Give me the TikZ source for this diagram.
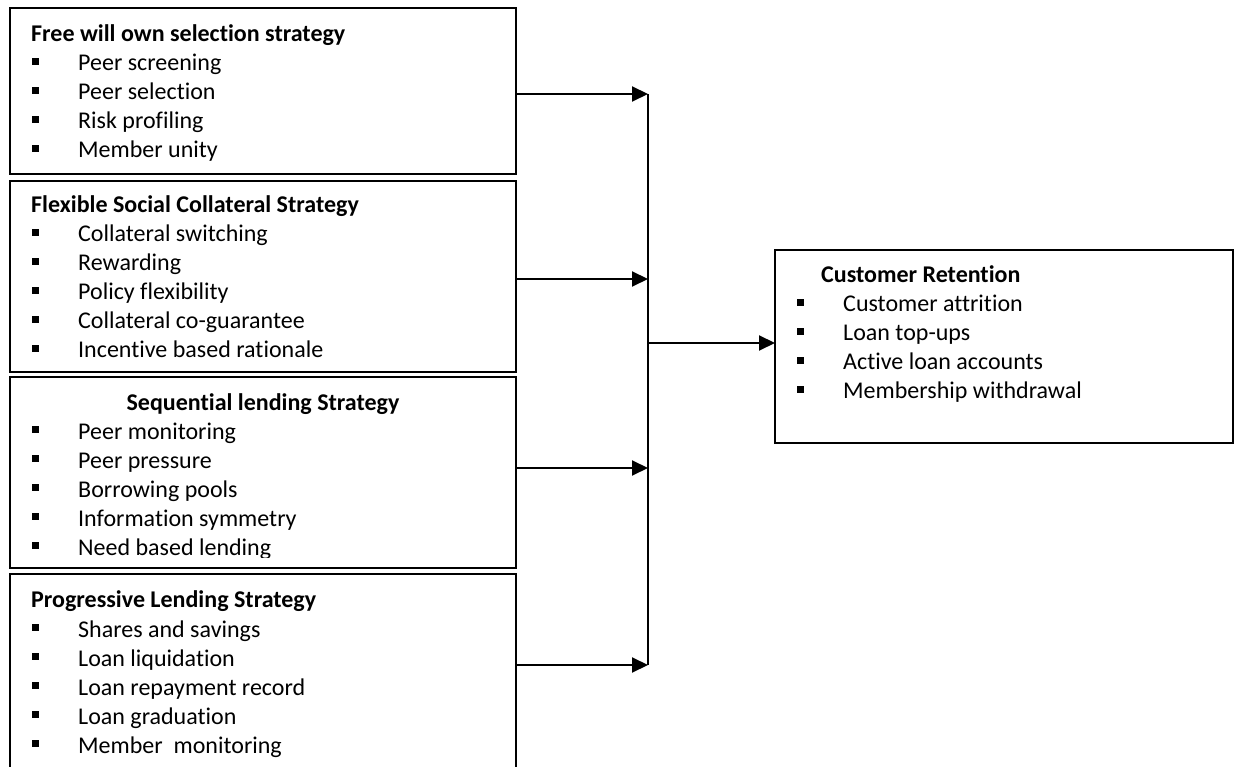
\documentclass[tikz,border=0pt]{standalone}
\usepackage{fontspec}
\setmainfont{Carlito}[Ligatures=NoCommon]
\usetikzlibrary{arrows.meta}
\usetikzlibrary{calc}
\tikzset{
	stratbox/.style={draw, line width=2pt, rectangle, minimum width=506pt, outer sep=0pt, inner sep=0pt, anchor=north west},
	heading/.style={font=\fontsize{24}{29}\selectfont\bfseries, anchor=base west, inner sep=0pt},
	itemtext/.style={font=\fontsize{24}{29}\selectfont, anchor=base west, inner sep=0pt},
	feed/.style={line width=2pt, -{Triangle[length=16pt,width=15pt]}}
}
\newcommand{\bulletitem}[4] % name, box left x, baseline y, text
{
	% square bullet
	\fill (#2+22,#3-13) rectangle (#2+29,#3-6);
	% item label
	\node[itemtext] (#1) at (#2+68,#3) {#4};
}

\begin{document}
\begin{tikzpicture}[x=1pt, y=-1pt]
	\useasboundingbox (0,0) rectangle (1235,767);
	\clip (0,0) rectangle (1235,767);
	% strategy boxes, pixel grid 1235 x 767
	\node[stratbox, minimum height=166pt] (free) at (10,8) {};
	\node[stratbox, minimum height=191pt] (flex) at (10,181) {};
	\node[stratbox, minimum height=191pt] (seq) at (10,377) {};
	\node[stratbox, minimum height=230pt] (prog) at (10,574) {};
	\node[stratbox, minimum width=458pt, minimum height=193pt] (ret) at (775,250) {};

	% free will own selection
	\node[heading] (free-title) at (31,42) {Free will own selection strategy};
	\bulletitem{free1}{10}{71}{Peer screening};
	\bulletitem{free2}{10}{100}{Peer selection};
	\bulletitem{free3}{10}{129}{Risk profiling};
	\bulletitem{free4}{10}{158}{Member unity};

	% flexible social collateral
	\node[heading] (flex-title) at (31,213) {Flexible Social Collateral Strategy};
	\bulletitem{flex1}{10}{242}{Collateral switching};
	\bulletitem{flex2}{10}{271}{Rewarding};
	\bulletitem{flex3}{10}{300}{Policy flexibility};
	\bulletitem{flex4}{10}{329}{Collateral co-guarantee};
	\bulletitem{flex5}{10}{358}{Incentive based rationale};

	% sequential lending - last line cut by the box
	\begin{scope}
		\clip (10,377) rectangle (516,557);
		\node[heading, anchor=base] (seq-title) at (263,410) {Sequential lending Strategy};
		\bulletitem{seq1}{10}{439}{Peer monitoring};
		\bulletitem{seq2}{10}{468}{Peer pressure};
		\bulletitem{seq3}{10}{497}{Borrowing pools};
		\bulletitem{seq4}{10}{526}{Information symmetry};
		\bulletitem{seq5}{10}{555}{Need based lending};
	\end{scope}

	% progressive lending
	\node[heading] (prog-title) at (31,607) {Progressive Lending Strategy};
	\bulletitem{prog1}{10}{637}{Shares and savings};
	\bulletitem{prog2}{10}{666}{Loan liquidation};
	\bulletitem{prog3}{10}{695}{Loan repayment record};
	\bulletitem{prog4}{10}{724}{Loan graduation};
	\bulletitem{prog5}{10}{753}{Member\ \ monitoring};

	% customer retention
	\node[heading] (ret-title) at (821,283) {Customer Retention};
	\bulletitem{ret1}{775}{312}{Customer attrition};
	\bulletitem{ret2}{775}{341}{Loan top-ups};
	\bulletitem{ret3}{775}{370}{Active loan accounts};
	\bulletitem{ret4}{775}{399}{Membership withdrawal};

	% connectors
	\coordinate (bus) at (648,0);
	\coordinate (free-out) at ([yshift=-86pt]free.north east);
	\coordinate (flex-out) at ([yshift=-98pt]flex.north east);
	\coordinate (seq-out) at ([yshift=-91pt]seq.north east);
	\coordinate (prog-out) at ([yshift=-91pt]prog.north east);
	\coordinate (ret-in) at ([yshift=-93pt]ret.north west);
	\draw[feed] (free-out) -- (free-out -| bus);
	\draw[feed] (flex-out) -- (flex-out -| bus);
	\draw[feed] (seq-out) -- (seq-out -| bus);
	\draw[feed] (prog-out) -- (prog-out -| bus);
	\draw[line width=2pt] (bus |- free-out) -- (bus |- prog-out);
	\draw[feed] (bus |- ret-in) -- (ret-in);
\end{tikzpicture}
\end{document}
